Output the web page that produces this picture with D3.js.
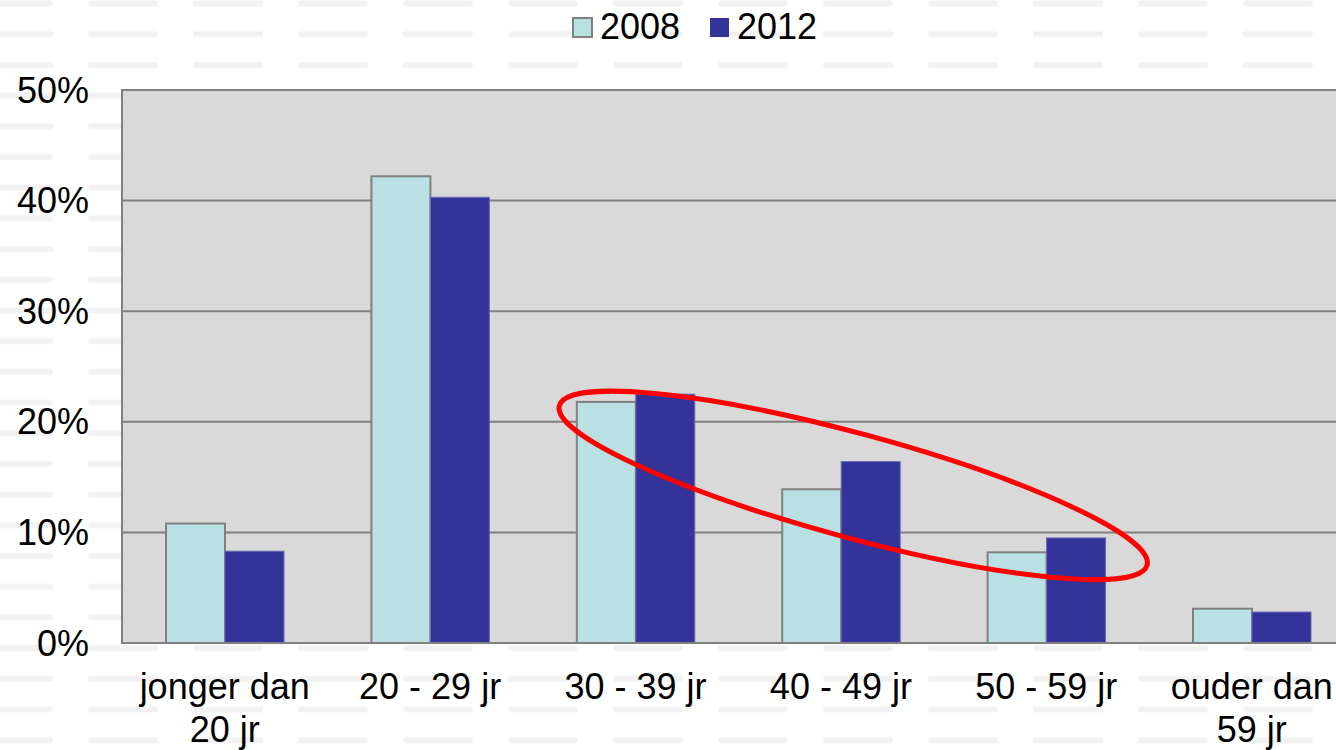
<!DOCTYPE html>
<html>
<head>
<meta charset="utf-8">
<script src="https://cdn.jsdelivr.net/npm/d3@7"></script>
<style>
  html, body { margin: 0; padding: 0; background: #fff; }
  svg { display: block; font-family: "Liberation Sans", Arial, sans-serif; }
</style>
</head>
<body>
<div id="chart"></div>
<script>
const categories = [['jonger dan', '20 jr'], ['20 - 29 jr'], ['30 - 39 jr'], ['40 - 49 jr'], ['50 - 59 jr'], ['ouder dan', '59 jr']];
const series = ['2008', '2012'];
const values2008 = [10.8, 42.2, 21.8, 13.9, 8.2, 3.1];
const values2012 = [8.3, 40.3, 22.5, 16.4, 9.5, 2.8];
const yTicks = [0, 10, 20, 30, 40, 50];
// red ellipse annotation: tip-to-tip, in category / percent terms
const ellipseFrom = { cat: 2, at: 0.12, value: 21.5 };
const ellipseTo = { cat: 4, at: 1.0, value: 7.0 };

const width = 1336;
const height = 750;
const margin = { top: 90, left: 122, bottom: 107 };
const bandW = 205.4;
const fontSize = '36px';

const svg = d3.select('#chart').append('svg')
  .attr('width', width)
  .attr('height', height);

// faint dashed background texture
const defs = svg.append('defs');
const pat = defs.append('pattern')
  .attr('id', 'bgdash')
  .attr('patternUnits', 'userSpaceOnUse')
  .attr('x', -17).attr('y', 0)
  .attr('width', 105).attr('height', 30.7);
pat.append('rect')
  .attr('x', 0).attr('y', 0.5).attr('width', 70).attr('height', 6)
  .attr('rx', 3)
  .attr('fill', '#f2f2f2');
svg.append('rect')
  .attr('width', width).attr('height', height)
  .attr('fill', 'url(#bgdash)');

const x = d3.scaleBand()
  .domain(d3.range(categories.length))
  .range([margin.left, margin.left + bandW * categories.length])
  .paddingInner(0)
  .paddingOuter(0);

const y = d3.scaleLinear()
  .domain([0, 50])
  .range([height - margin.bottom, margin.top]);

const inner = d3.scaleBand()
  .domain(series)
  .range([44, 44 + 118]);

const g = svg.append('g');

// plot area
g.append('rect')
  .attr('x', margin.left)
  .attr('y', y(50))
  .attr('width', width - margin.left + 10)
  .attr('height', y(0) - y(50))
  .attr('fill', '#d9d9d9')
  .attr('stroke', '#808080')
  .attr('stroke-width', 2);

g.selectAll('.grid')
  .data(yTicks.filter(d => d > 0 && d < 50))
  .enter()
  .append('line')
  .attr('class', 'grid')
  .attr('x1', margin.left).attr('x2', width)
  .attr('y1', d => y(d)).attr('y2', d => y(d))
  .attr('stroke', '#808080')
  .attr('stroke-width', 2);

// y axis labels
g.selectAll('.ylab')
  .data(yTicks)
  .enter()
  .append('text')
  .attr('class', 'ylab')
  .attr('x', 89)
  .attr('y', d => y(d))
  .attr('dy', '0.35em')
  .attr('text-anchor', 'end')
  .style('font-size', fontSize)
  .style('fill', '#000')
  .text(d => d + '%');

// bars
const colors = { '2008': '#b9e0e3', '2012': '#333399' };
const strokes = { '2008': '#808080', '2012': '#6a6ab4' };
const rows = [];
categories.forEach((c, i) => {
  rows.push({ i, s: '2008', v: values2008[i] });
  rows.push({ i, s: '2012', v: values2012[i] });
});

g.selectAll('.bar')
  .data(rows)
  .enter()
  .append('rect')
  .attr('class', 'bar')
  .attr('x', d => x(d.i) + inner(d.s))
  .attr('y', d => y(d.v))
  .attr('width', inner.bandwidth())
  .attr('height', d => y(0) - y(d.v))
  .attr('fill', d => colors[d.s])
  .attr('stroke', d => strokes[d.s])
  .attr('stroke-width', d => d.s === '2008' ? 2 : 1);

// bottom axis line
g.append('line')
  .attr('x1', margin.left).attr('x2', width)
  .attr('y1', y(0)).attr('y2', y(0))
  .attr('stroke', '#808080')
  .attr('stroke-width', 2);

// category labels
const catLab = g.selectAll('.xlab')
  .data(categories)
  .enter()
  .append('text')
  .attr('class', 'xlab')
  .attr('text-anchor', 'middle')
  .style('font-size', fontSize)
  .style('fill', '#000');
catLab.selectAll('tspan')
  .data((d, i) => d.map(t => ({ t, i })))
  .enter()
  .append('tspan')
  .attr('x', d => x(d.i) + x.bandwidth() / 2)
  .attr('y', (d, j) => 699 + j * 43)
  .text(d => d.t);

// ellipse annotation
const p1 = [x(ellipseFrom.cat) + ellipseFrom.at * bandW, y(ellipseFrom.value)];
const p2 = [x(ellipseTo.cat) + ellipseTo.at * bandW, y(ellipseTo.value)];
const cx = (p1[0] + p2[0]) / 2;
const cy = (p1[1] + p2[1]) / 2;
const rx = Math.hypot(p2[0] - p1[0], p2[1] - p1[1]) / 2 - 2;
const ang = Math.atan2(p2[1] - p1[1], p2[0] - p1[0]) * 180 / Math.PI;
g.append('ellipse')
  .attr('cx', 0).attr('cy', 0)
  .attr('rx', rx).attr('ry', 52)
  .attr('transform', `translate(${cx},${cy}) rotate(${ang})`)
  .attr('fill', 'none')
  .attr('stroke', '#ff0000')
  .attr('stroke-width', 5);

// legend
const legend = svg.append('g').attr('transform', 'translate(572,17)');
const legX = { '2008': 0, '2012': 137 };
series.forEach(s => {
  const lg = legend.append('g').attr('transform', `translate(${legX[s]},0)`);
  lg.append('rect')
    .attr('x', 1).attr('y', 1)
    .attr('width', 19).attr('height', 19)
    .attr('fill', colors[s])
    .attr('stroke', s === '2008' ? '#808080' : 'none')
    .attr('stroke-width', 2);
  lg.append('text')
    .attr('x', 28).attr('y', 22)
    .style('font-size', fontSize)
    .style('fill', '#000')
    .text(s);
});
</script>
</body>
</html>
